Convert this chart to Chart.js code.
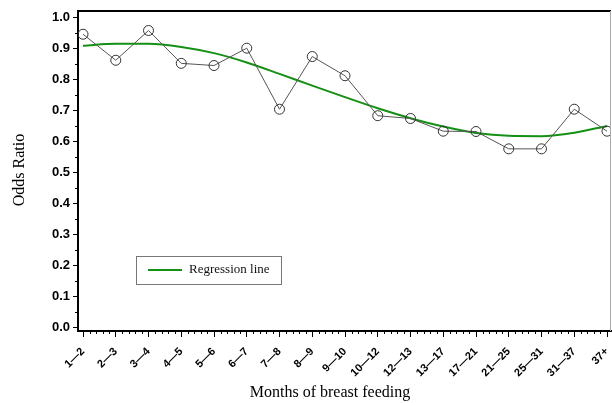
<!DOCTYPE html>
<html>
<head>
<meta charset="utf-8">
<script src="https://cdn.jsdelivr.net/npm/chart.js@4.4.0/dist/chart.umd.min.js"></script>
<style>
  html, body { margin: 0; padding: 0; background: #fff; overflow: hidden; }
  #wrap { width: 617px; height: 403px; position: relative; }
</style>
</head>
<body>
<div id="wrap"><canvas id="grafico"></canvas></div>
<script>
// Dados
const categorias = ['1—2', '2—3', '3—4', '4—5', '5—6', '6—7', '7—8', '8—9', '9—10', '10—12',
    '12—13', '13—17', '17—21', '21—25', '25—31', '31—37', '37+'];
const oddsRatio = [0.946, 0.862, 0.958, 0.852, 0.845, 0.901, 0.704, 0.874, 0.812, 0.683,
    0.674, 0.633, 0.632, 0.576, 0.576, 0.704, 0.633];
const regressao = [0.909, 0.915, 0.915, 0.905, 0.885, 0.855, 0.818, 0.780, 0.743, 0.707,
    0.675, 0.648, 0.627, 0.618, 0.617, 0.628, 0.650];
const ticksY = [0, 0.1, 0.2, 0.3, 0.4, 0.5, 0.6, 0.7, 0.8, 0.9, 1.0];

const verde = '#149014';

// Marcas menores, bordas, títulos e legenda
const extras = {
    id: 'extras',
    afterDraw(chart) {
        const ctx = chart.ctx;
        const a = chart.chartArea;
        const sx = chart.scales.x, sy = chart.scales.y;
        ctx.save();
        // borda superior e direita
        ctx.strokeStyle = '#000';
        ctx.lineWidth = 2;
        ctx.beginPath();
        ctx.moveTo(a.left, a.top);
        ctx.lineTo(a.right, a.top);
        ctx.stroke();
        ctx.strokeStyle = '#aaa';
        ctx.lineWidth = 1;
        ctx.beginPath();
        ctx.moveTo(a.right - 0.5, a.top);
        ctx.lineTo(a.right - 0.5, a.bottom);
        ctx.stroke();
        // marcas menores
        ctx.strokeStyle = '#000';
        ctx.lineWidth = 1;
        ctx.beginPath();
        for (let i = 0; i < categorias.length - 1; i++) {
            for (let j = 1; j < 5; j++) {
                const px = Math.round(sx.getPixelForValue(i + j / 5)) + 0.5;
                ctx.moveTo(px, a.bottom);
                ctx.lineTo(px, a.bottom + 3);
            }
        }
        for (let k = 0; k < ticksY.length - 1; k++) {
            const py = Math.round(sy.getPixelForValue(ticksY[k] + 0.05)) + 0.5;
            ctx.moveTo(a.left, py);
            ctx.lineTo(a.left - 3, py);
        }
        ctx.stroke();
        // títulos
        ctx.fillStyle = '#000';
        ctx.font = '16px "Liberation Serif", "DejaVu Serif", serif';
        ctx.textAlign = 'center';
        ctx.textBaseline = 'middle';
        ctx.fillText('Months of breast feeding', 330, 393);
        ctx.translate(20, 170);
        ctx.rotate(-Math.PI / 2);
        ctx.fillText('Odds Ratio', 0, 0);
        ctx.restore();
        // legenda
        ctx.save();
        ctx.strokeStyle = '#777';
        ctx.lineWidth = 1;
        ctx.strokeRect(136.5, 256.5, 145, 28);
        ctx.strokeStyle = verde;
        ctx.lineWidth = 2;
        ctx.beginPath();
        ctx.moveTo(148, 270);
        ctx.lineTo(182, 270);
        ctx.stroke();
        ctx.fillStyle = '#111';
        ctx.font = '13px "Liberation Serif", "DejaVu Serif", serif';
        ctx.textAlign = 'left';
        ctx.textBaseline = 'middle';
        ctx.fillText('Regression line', 189, 270);
        ctx.restore();
    }
};

new Chart(document.getElementById('grafico'), {
    type: 'line',
    data: {
        datasets: [{
            label: 'Odds Ratio',
            data: oddsRatio.map((v, i) => ({ x: i, y: v })),
            borderColor: '#555',
            borderWidth: 1,
            pointRadius: 5,
            pointBorderColor: '#333',
            pointBorderWidth: 1,
            pointBackgroundColor: 'rgba(0,0,0,0)',
            tension: 0
        }, {
            label: 'Regression line',
            data: regressao.map((v, i) => ({ x: i, y: v })),
            borderColor: verde,
            borderWidth: 2,
            pointRadius: 0,
            cubicInterpolationMode: 'monotone'
        }]
    },
    options: {
        responsive: true,
        maintainAspectRatio: false,
        animation: false,
        layout: { padding: { top: 11, right: 0, left: 0, bottom: 0 } },
        plugins: {
            legend: { display: false },
            tooltip: { enabled: false }
        },
        scales: {
            x: {
                type: 'linear',
                min: -0.153,
                max: 16.122,
                afterFit(scale) {
                    scale.height = 72;
                    scale.paddingLeft = 0;
                    scale.paddingRight = 0;
                },
                ticks: {
                    stepSize: 1,
                    includeBounds: false,
                    autoSkip: false,
                    minRotation: 45,
                    maxRotation: 45,
                    padding: 8,
                    color: '#000',
                    font: { family: '"Liberation Sans", Arial, sans-serif', size: 11, weight: 'bold' },
                    callback: v => categorias[v] !== undefined ? categorias[v] : ''
                },
                grid: { drawOnChartArea: false, tickLength: 6, color: '#000', lineWidth: 1 },
                border: { color: '#000', width: 2 }
            },
            y: {
                min: -0.012,
                max: 1.021,
                afterFit(scale) {
                    scale.width = 78;
                    scale.paddingTop = 0;
                    scale.paddingBottom = 0;
                },
                afterBuildTicks(scale) { scale.ticks = ticksY.map(v => ({ value: v })); },
                ticks: {
                    includeBounds: false,
                    padding: 3,
                    color: '#000',
                    font: { family: '"Liberation Sans", Arial, sans-serif', size: 13, weight: 'bold' },
                    callback: v => v.toFixed(1)
                },
                grid: { drawOnChartArea: false, tickLength: 5, color: '#000', lineWidth: 1 },
                border: { color: '#000', width: 2 }
            }
        }
    },
    plugins: [extras]
});
</script>
</body>
</html>
